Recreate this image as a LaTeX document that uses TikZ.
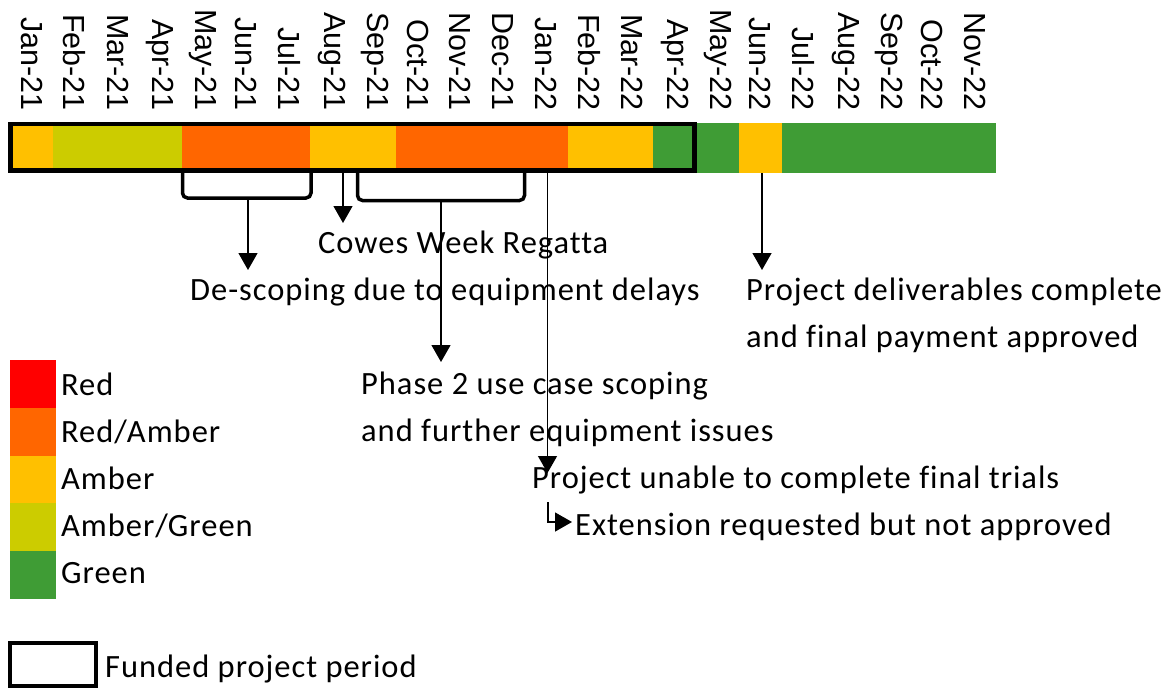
\documentclass[tikz,border=0pt]{standalone}
\usepackage{fontspec}
\setmainfont{Carlito}[LetterSpace=3, Ligatures=NoCommon]
\newfontfamily\monthfont{Liberation Sans}
\usetikzlibrary{arrows.meta}

\definecolor{ragRed}{HTML}{FF0000}
\definecolor{ragRedAmber}{HTML}{FF6600}
\definecolor{ragAmber}{HTML}{FFC000}
\definecolor{ragAmberGreen}{HTML}{CCCC00}
\definecolor{ragGreen}{HTML}{3F9C35}

\tikzset{
  monthlbl/.style={rotate=-90, anchor=east, inner sep=0pt,
    font=\monthfont\fontsize{30.5}{30}\selectfont},
  note/.style={anchor=base west, inner sep=0pt,
    font=\fontsize{32.5}{36}\selectfont},
  framebox/.style={draw=black, line width=4.5pt},
  bracket/.style={draw=black, line width=3.5pt, rounded corners=5pt},
  arr/.style={draw=black, line width=1.3pt,
    -{Triangle[width=19pt,length=17pt]}},
}

\begin{document}
\begin{tikzpicture}[x=1pt,y=-1pt]
\useasboundingbox (0,0) rectangle (1169,691);

\def\xo{10.5}
\def\mw{42.85}

% RAG status bar, one segment per run of months
\foreach \s/\n/\c in {0/1/ragAmber, 1/3/ragAmberGreen, 4/3/ragRedAmber,
    7/2/ragAmber, 9/4/ragRedAmber, 13/2/ragAmber, 15/2/ragGreen,
    17/1/ragAmber, 18/5/ragGreen}
  \fill[\c] ({\xo+\s*\mw},123) rectangle ({\xo+(\s+\n)*\mw},173);

% month labels
\foreach \m [count=\i from 0] in {Jan-21,Feb-21,Mar-21,Apr-21,May-21,Jun-21,
    Jul-21,Aug-21,Sep-21,Oct-21,Nov-21,Dec-21,Jan-22,Feb-22,Mar-22,Apr-22,
    May-22,Jun-22,Jul-22,Aug-22,Sep-22,Oct-22,Nov-22}
  \node[monthlbl] (m\i) at ({\xo+(\i+0.5)*\mw},111) {\m};

% funded project period
\draw[framebox] (10.3,124) rectangle (694.7,170.5);

% brackets below the bar
\draw[bracket] (182.5,172) -- (182.5,198) -- (311,198) -- (311,172);
\draw[bracket] (357.5,172) -- (357.5,200.5) -- (524.5,200.5) -- (524.5,172);

% annotations
\node[note] (regatta) at (318,253.5) {Cowes Week Regatta};
\node[note] (descope) at (190,300.5) {De-scoping due to equipment delays};
\node[note] (deliv1) at (746,300.5) {Project deliverables complete};
\node[note] (deliv2) at (746,347.5) {and final payment approved};
\node[note] (phase1) at (361,394.5) {Phase 2 use case scoping};
\node[note] (phase2) at (361,441.5) {and further equipment issues};
\node[note] (unable) at (532,488.5) {Project unable to complete final trials};
\node[note] (extend) at (575,535.5) {Extension requested but not approved};

% connector ends
\coordinate (br1) at (248,198);
\coordinate (br1tip) at (248,270);
\coordinate (aug) at (343,173);
\coordinate (augtip) at (343,223);
\coordinate (br2) at (441,200.5);
\coordinate (br2tip) at (441,362);
\coordinate (jan) at (547.5,173);
\coordinate (jantip) at (547.5,473);
\coordinate (jun) at (762,173);
\coordinate (juntip) at (762,270);
\coordinate (extstart) at (548,502);
\coordinate (exttip) at (572,522);

\draw[arr] (br1) -- (br1tip);
\draw[arr] (aug) -- (augtip);
\draw[arr] (br2) -- (br2tip);
\draw[arr] (jan) -- (jantip);
\draw[arr] (jun) -- (juntip);
\draw[arr] (extstart) |- (exttip);

% legend
\foreach \c/\t [count=\i from 0] in {ragRed/Red, ragRedAmber/Red\slash Amber,
    ragAmber/Amber, ragAmberGreen/Amber\slash Green, ragGreen/Green} {
  \fill[\c] (10,{360+\i*47.8}) rectangle (56,{360+(\i+1)*47.8});
  \node[note] (leg\i) at (61,{395+\i*47}) {\t};
}
\draw[framebox] (10.2,643.2) rectangle (95.8,685.8);
\node[note] (legfund) at (105,677) {Funded project period};
\end{tikzpicture}
\end{document}
